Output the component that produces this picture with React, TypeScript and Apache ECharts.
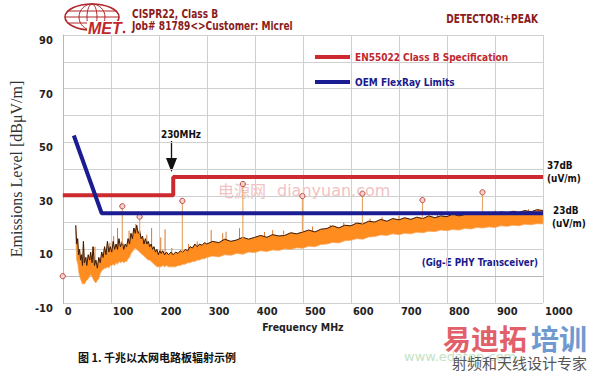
import React, { useEffect, useRef } from "react";
import * as echarts from "echarts";

// ---------- data ----------
const xTicksMHz = [0, 100, 200, 300, 400, 500, 600, 700, 800, 900, 1000];
const yTicksDb = [-10, 10, 30, 50, 70, 90];

// EN55022 Class B limit [MHz, dB]
const enLimitFreq = [0, 230, 230, 1000];
const enLimitDb = [30.2, 30.2, 37, 37];

// OEM FlexRay limit [MHz, dB]
const oemLimitFreq = [23, 81, 1000];
const oemLimitDb = [52.5, 23.5, 23.5];

// Measured emission band: frequency, top (peak trace) and bottom of the noise band
const noiseFreq = [
  27, 29, 31, 33, 35, 37, 39, 41, 43, 45, 48, 50, 53, 56, 58, 61, 63, 66, 69, 72,
  75, 78, 81, 84, 87, 90, 93, 96, 99, 102, 105, 108, 111, 114, 117, 120, 124, 127, 130, 133,
  136, 139, 142, 145, 148, 151, 154, 157, 160, 163, 166, 169, 172, 175, 178, 181, 184, 187, 190, 193,
  196, 199, 202, 205, 208, 212, 216, 220, 225, 230, 235, 240, 245, 250, 255, 260, 265, 270, 275, 280,
  285, 290, 295, 300, 312, 325, 337, 350, 362, 375, 387, 400, 412, 425, 437, 450, 462, 475, 487, 500,
  512, 525, 537, 550, 562, 575, 587, 600, 612, 625, 637, 650, 662, 675, 687, 700, 712, 725, 737, 750,
  762, 775, 787, 800, 812, 825, 837, 850, 862, 875, 887, 900, 912, 925, 937, 950, 962, 975, 987, 1000,
];
const noiseUpper = [
  19, 12, 14, 8, 10, 6, 8, 4, 13, 5, 7, 4, 8, 6, 9, 5, 11, 4, 6, 3,
  7, 5, 9, 7, 11, 8, 13, 9, 11, 9, 13, 10, 12, 10, 14, 11, 13, 10, 12, 11,
  14, 12, 16, 14, 18, 16, 19, 16, 17, 14, 15, 12, 14, 12, 13, 11, 12, 10, 11, 9,
  10, 8, 9.5, 8.5, 9.5, 8, 9, 8, 9, 8, 9, 8.5, 9.5, 9, 10, 9.5, 11, 10.5, 12, 11,
  12, 11.5, 12.5, 12, 13, 12.5, 13.8, 13, 13.5, 14.5, 13.8, 14.5, 15.2, 14.5, 15.5, 15, 15.2, 16.2, 15.8, 16.5,
  17.2, 16.5, 17.5, 17.8, 18.8, 18, 19, 18.8, 19.8, 19.5, 20.5, 20.2, 21.2, 20.5, 21.5, 21, 21.8, 21.2, 22, 21.5,
  22.5, 21.8, 22.5, 22.2, 23.2, 22.5, 23, 23.2, 23.8, 23, 23.8, 23.2, 24, 23.6, 24.2, 23.8, 24.5, 24, 24.8, 24.5,
];
const noiseLower = [
  14, 6, 5, 2, 0, -1, -2, -3, -2.5, -3, -2, -1.5, -1, 0, 0.5, 0, -1, -2, -2.5, -1.5,
  -1, 1, 2, 2.5, 3, 3, 3.5, 3, 4, 4, 4.5, 4, 5, 4.5, 5.5, 5, 5.5, 5, 5.5, 5.5,
  6.5, 7, 8.5, 9, 10, 10.5, 10, 9.5, 9, 8.5, 8, 7.5, 7, 6.5, 6, 6, 5.5, 5, 4.5, 4,
  3.5, 3.5, 3.5, 3.5, 4, 3.5, 4, 3.5, 3.5, 3.5, 3.5, 4, 4, 4.5, 4.5, 5, 5, 5.5, 5.5, 6,
  6, 6.5, 6.5, 7, 7.5, 7.2, 8, 7.8, 8.5, 8.2, 9, 8.8, 9.5, 9.2, 9.8, 9.6, 10.2, 10, 10.6, 10.4,
  11.2, 11, 11.8, 12, 12.6, 12.4, 13.2, 13.4, 14, 13.8, 14.6, 14.8, 15.4, 15.2, 15.8, 15.5, 16, 15.8, 16.4, 16.2,
  16.8, 16.6, 17.2, 17, 17.4, 17.2, 17.8, 17.6, 18.2, 18, 18.4, 18.2, 18.8, 18.6, 19, 18.8, 19.4, 19.2, 19.6, 19.5,
];

// Narrow spikes rising out of the band: frequency, tip level, foot level
const spikeFreq = [
  67, 98, 106, 114, 138, 152, 175, 185, 204, 213, 227, 262, 280, 309, 333, 340, 368, 420, 437, 460,
  520, 557, 585, 640, 665, 700, 780, 820, 850, 900, 940, 970, 990,
];
const spikeTopDb = [
  11, 12.5, 15, 18, 17, 19.5, 15.5, 18, 14.5, 17.5, 10.5, 12, 13, 17.2, 16, 16.6, 17.9, 16.5, 17.2, 17,
  18.5, 19.1, 20, 21.5, 22, 22.5, 23.5, 24, 24, 24.5, 24.5, 25, 25,
];
const spikeFootDb = [
  5, 10, 12, 10, 13, 16, 12, 11, 8.5, 8, 8, 9.5, 11, 12.5, 13, 13, 14, 15, 15, 15.5,
  16.5, 18, 18.5, 20, 20.5, 21, 22, 22.5, 23, 23, 23.5, 24, 24,
];

// Marked peaks: frequency, peak level, level where the stem starts
const peakFreq = [0, 124, 160, 249, 375, 499, 624, 749, 874];
const peakDb = [0, 26.1, 22.2, 28.1, 34.4, 29.9, 30.8, 28.4, 31.3];
const peakBaseDb = [0, 12, 16, 9, 14, 16.5, 19.5, 21.5, 23];

const enName = "EN55022 Class B Specification";
const oemName = "OEM FlexRay Limits";

const NARROW = "'Liberation Sans Narrow', 'DejaVu Sans Condensed', 'Arial Narrow', sans-serif";
const CJK = "'Noto Sans CJK SC', sans-serif";

export default function App() {
  const ref = useRef<HTMLDivElement>(null);

  useEffect(() => {
    if (!ref.current) return;
    const chart = echarts.init(ref.current, null, { renderer: "svg" });

    const enData = enLimitFreq.map((f, i) => [f, enLimitDb[i]]);
    const oemData = oemLimitFreq.map((f, i) => [f, oemLimitDb[i]]);
    const traceData = noiseFreq.map((f, i) => [f, noiseUpper[i]]);
    const spikeData = spikeFreq.map((f, i) => [f, spikeTopDb[i], spikeFootDb[i]]);
    const peakData = peakFreq.map((f, i) => [f, peakDb[i], peakBaseDb[i]]);

    const axisTxt = { fontFamily: NARROW, fontWeight: "bold" as const, fontSize: 11, color: "#222" };
    const hdr = (text: string, x: number, y: number, align: string, fill: string, size = 12, sx = 0.84) => ({
      type: "text",
      x,
      y,
      scaleX: sx,
      style: { text, fill, font: `bold ${size}px ${NARROW}`, align, verticalAlign: "middle" },
    });

    chart.setOption({
      animation: false,
      backgroundColor: "#ffffff",
      grid: { left: 61, right: 57, top: 35, bottom: 69, containLabel: false },
      legend: {
        orient: "vertical",
        left: 310,
        top: 45,
        itemWidth: 35,
        itemHeight: 4,
        itemGap: 11,
        icon: "rect",
        selectedMode: false,
        data: [
          { name: enName, textStyle: { color: "#c0282e" } },
          { name: oemName, textStyle: { color: "#1a1a8c" } },
        ],
        textStyle: { fontFamily: NARROW, fontWeight: "bold", fontSize: 10, lineHeight: 14 },
      },
      xAxis: {
        type: "value",
        min: xTicksMHz[0],
        max: xTicksMHz[xTicksMHz.length - 1],
        interval: 100,
        name: "Frequency MHz",
        nameLocation: "middle",
        nameGap: 15,
        nameTextStyle: { ...axisTxt, fontSize: 10.5 },
        axisLine: { show: true, lineStyle: { color: "#b8b8b8" } },
        axisTick: { show: false },
        splitLine: { show: true, lineStyle: { color: "#cfcfcf", width: 1 } },
        axisLabel: {
          ...axisTxt,
          align: "left",
          padding: [0, 0, 0, 2],
          margin: 3,
          formatter: (v: number) => (xTicksMHz.includes(v) ? String(v) : ""),
        },
      },
      yAxis: {
        type: "value",
        min: -10,
        max: 90,
        interval: 10,
        name: "Emissions Level [dBμV/m]",
        nameLocation: "middle",
        nameRotate: 90,
        nameGap: 25,
        nameTextStyle: { fontFamily: "'Liberation Serif', serif", fontSize: 16, color: "#333" },
        axisLine: { show: true, lineStyle: { color: "#b8b8b8" } },
        axisTick: { show: false },
        splitLine: { show: true, lineStyle: { color: "#cfcfcf", width: 1 } },
        axisLabel: {
          ...axisTxt,
          margin: 10,
          verticalAlign: "top",
          formatter: (v: number) => (yTicksDb.includes(v) ? String(v) : ""),
        },
      },
      series: [
        {
          type: "custom",
          name: "band",
          silent: true,
          z: 2,
          clip: true,
          data: [[noiseFreq[0], noiseLower[0]]],
          renderItem: (_params: any, api: any) => {
            const pts: number[][] = [];
            for (let i = 0; i < noiseFreq.length; i++) pts.push(api.coord([noiseFreq[i], noiseUpper[i]]));
            for (let i = noiseFreq.length - 1; i >= 0; i--) pts.push(api.coord([noiseFreq[i], noiseLower[i]]));
            return {
              type: "polygon",
              shape: { points: pts },
              style: { fill: "#ff8c1e", stroke: "#f6a860", lineWidth: 0.8 },
            };
          },
        },
        {
          type: "custom",
          name: "spikes",
          silent: true,
          z: 3,
          data: spikeData,
          encode: { x: 0, y: 1 },
          renderItem: (_params: any, api: any) => {
            const f = api.value(0);
            const top = api.coord([f, api.value(1)]);
            const bot = api.coord([f, api.value(2)]);
            return {
              type: "line",
              shape: { x1: top[0], y1: top[1], x2: bot[0], y2: bot[1] },
              style: { stroke: "#d9782a", lineWidth: 1 },
            };
          },
        },
        {
          type: "line",
          name: "trace",
          silent: true,
          z: 3,
          symbol: "none",
          data: traceData,
          lineStyle: { color: "#3c1a06", width: 1 },
        },
        {
          type: "custom",
          name: "peaks",
          silent: true,
          z: 4,
          data: peakData,
          encode: { x: 0, y: 1 },
          renderItem: (_params: any, api: any) => {
            const f = api.value(0);
            const top = api.coord([f, api.value(1)]);
            const bot = api.coord([f, api.value(2)]);
            return {
              type: "group",
              children: [
                {
                  type: "line",
                  shape: { x1: top[0], y1: top[1] + 2.5, x2: bot[0], y2: bot[1] },
                  style: { stroke: "#e8a868", lineWidth: 1.2 },
                },
                {
                  type: "circle",
                  shape: { cx: top[0], cy: top[1], r: 2.6 },
                  style: { fill: "#f6d4c8", stroke: "#b84848", lineWidth: 1 },
                },
              ],
            };
          },
        },
        {
          type: "line",
          name: enName,
          z: 5,
          symbol: "none",
          color: "#cc2a2e",
          data: enData,
          lineStyle: { color: "#cc2a2e", width: 4 },
        },
        {
          type: "line",
          name: oemName,
          z: 5,
          symbol: "none",
          color: "#1c1c92",
          data: oemData,
          lineStyle: { color: "#1c1c92", width: 4 },
        },
      ],
      graphic: [
        // MET logo
        {
          type: "group",
          x: 64,
          y: 2,
          children: [
            { type: "ellipse", shape: { cx: 28, cy: 15, rx: 27, ry: 13 }, style: { fill: "none", stroke: "#b0262a", lineWidth: 1.6 } },
            { type: "ellipse", shape: { cx: 28, cy: 15, rx: 13, ry: 13 }, style: { fill: "none", stroke: "#b0262a", lineWidth: 1 } },
            { type: "ellipse", shape: { cx: 28, cy: 15, rx: 5, ry: 13 }, style: { fill: "none", stroke: "#b0262a", lineWidth: 1 } },
            { type: "line", shape: { x1: 3, y1: 9, x2: 53, y2: 9 }, style: { stroke: "#b0262a", lineWidth: 1 } },
            { type: "line", shape: { x1: 1, y1: 15, x2: 55, y2: 15 }, style: { stroke: "#b0262a", lineWidth: 1 } },
            { type: "line", shape: { x1: 3, y1: 21, x2: 53, y2: 21 }, style: { stroke: "#b0262a", lineWidth: 1 } },
            { type: "rect", shape: { x: 23, y: 19, width: 34, height: 14 }, style: { fill: "#ffffff" } },
            {
              type: "text",
              x: 24,
              y: 18,
              style: { text: "MET", fill: "#c0262a", font: "italic bold 16px 'Liberation Sans', sans-serif" },
            },
            { type: "circle", shape: { cx: 60, cy: 30, r: 1.3 }, style: { fill: "#c0262a" } },
          ],
        },
        hdr("CISPR22, Class B", 132, 14, "left", "#8a1c1c"),
        hdr("Job# 81789<>Customer: Micrel", 132, 26, "left", "#8a1c1c"),
        hdr("DETECTOR:+PEAK", 538, 19, "right", "#8a1c1c"),
        // 230 MHz annotation
        hdr("230MHz", 181, 134, "center", "#111", 11, 0.9),
        { type: "line", shape: { x1: 171.5, y1: 141, x2: 171.5, y2: 160 }, style: { stroke: "#111", lineWidth: 1.3 } },
        { type: "polygon", shape: { points: [[166, 158], [177, 158], [171.5, 172]] }, style: { fill: "#111" } },
        // right side labels
        hdr("37dB", 547, 165, "left", "#111", 11, 0.9),
        hdr("(uV/m)", 547, 178, "left", "#111", 11, 0.9),
        hdr("23dB", 553, 210, "left", "#111", 11, 0.9),
        hdr("(uV/m)", 552, 223, "left", "#111", 11, 0.9),
        hdr("(Gig-E PHY Transceiver)", 538, 262, "right", "#1a1a8c", 11, 0.88),
        // watermark in plot
        { type: "text", x: 218, y: 190, style: { text: "电源网", fill: "#f2c2c2", font: `16px ${CJK}`, verticalAlign: "middle" } },
        { type: "text", x: 277, y: 190, style: { text: "dianyuan.com", fill: "#f2c2c2", font: "16px 'DejaVu Sans', sans-serif", verticalAlign: "middle" } },
        // caption
        {
          type: "text",
          x: 78,
          y: 357,
          style: { text: "图 1. 千兆以太网电路板辐射示例", fill: "#111", font: `bold 11px ${CJK}`, verticalAlign: "middle" },
        },
        // bottom-right watermark
        { type: "text", x: 404, y: 356, style: { text: "www.edatop.com", fill: "#c4e2c4", font: "13px 'DejaVu Sans', sans-serif", verticalAlign: "middle" } },
        { type: "text", x: 443, y: 338, style: { text: "易迪拓", fill: "#e2606a", font: `bold 28px ${CJK}`, verticalAlign: "middle" } },
        { type: "text", x: 531, y: 338, style: { text: "培训", fill: "#6f9ad0", font: `bold 28px ${CJK}`, verticalAlign: "middle" } },
        { type: "text", x: 452, y: 362, style: { text: "射频和天线设计专家", fill: "#555", font: `15px ${CJK}`, verticalAlign: "middle" } },
      ],
    });

    return () => chart.dispose();
  }, []);

  return (
    <div
      ref={ref}
      style={{ position: "fixed", left: 0, top: 0, width: 600, height: 372, background: "#fff" }}
    />
  );
}
